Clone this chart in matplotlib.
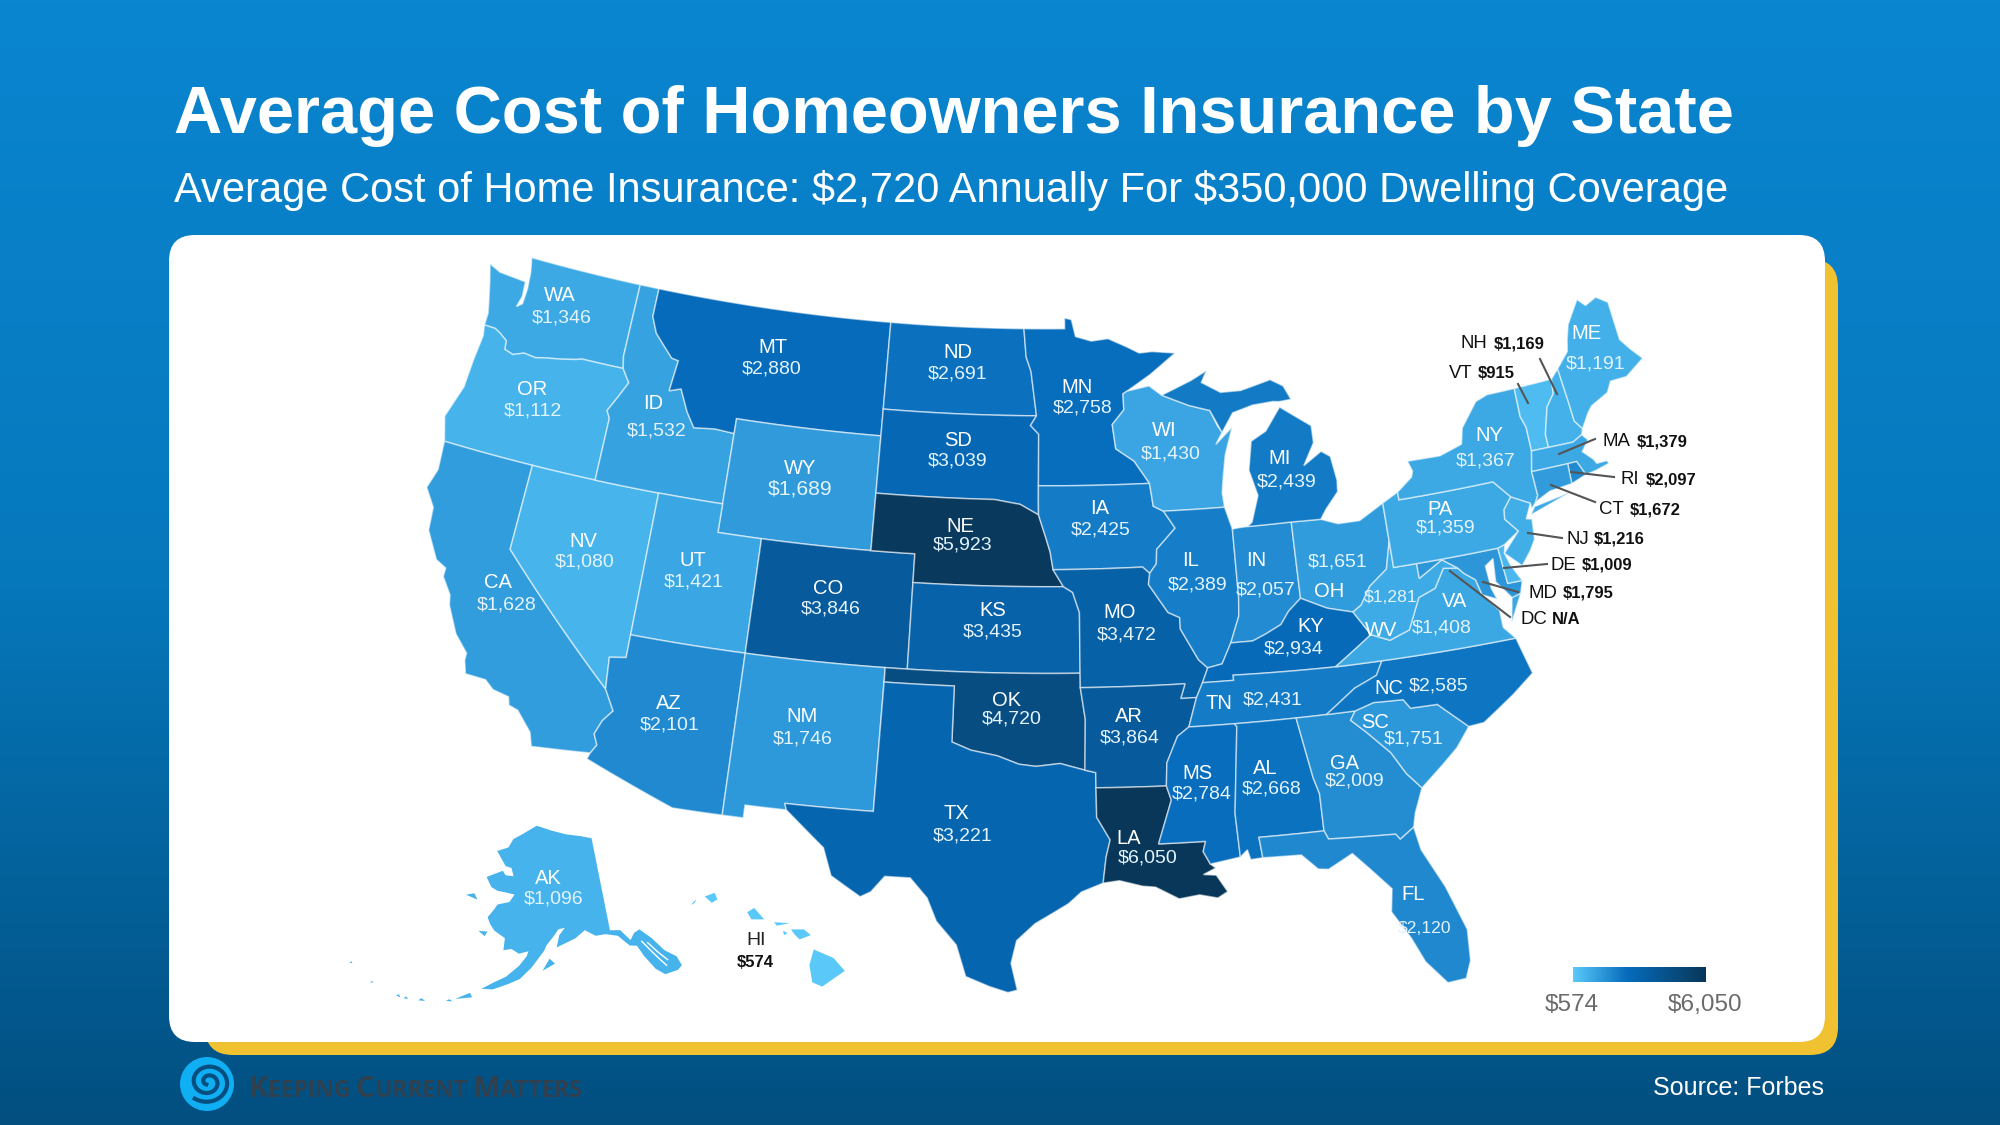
import numpy as np
import matplotlib
matplotlib.use("Agg")
import matplotlib.pyplot as plt
from matplotlib.colors import LinearSegmentedColormap, Normalize
from matplotlib.patches import Polygon, FancyBboxPatch, Circle

plt.rcParams['font.family'] = ['Liberation Sans', 'DejaVu Sans']

# costs
state_codes = ["WA", "OR", "CA", "NV", "ID", "MT", "WY", "UT", "AZ", "CO", "NM", "ND", "SD", "NE", "KS", "OK", "TX",
               "MN", "IA", "MO", "AR", "LA", "WI", "IL", "MI", "IN", "OH", "KY", "TN", "MS", "AL", "GA", "FL", "SC",
               "NC", "VA", "WV", "PA", "NY", "ME", "AK", "HI", "NH", "VT", "MA", "RI", "CT", "NJ", "DE", "MD"]
state_costs = [1346, 1112, 1628, 1080, 1532, 2880, 1689, 1421, 2101, 3846, 1746, 2691, 3039, 5923, 3435, 4720, 3221,
               2758, 2425, 3472, 3864, 6050, 1430, 2389, 2439, 2057, 1651, 2934, 2431, 2784, 2668, 2009, 2120, 1751,
               2585, 1408, 1281, 1359, 1367, 1191, 1096, 574, 1169, 915, 1379, 2097, 1672, 1216, 1009, 1795]
cost_min = 574
cost_max = 6050

# label positions are measured on a 1568 wide copy of the picture
label_scale = 2000 / 1568
inner_labels = {
    "WA": (439, 230, 440, 248, 14), "OR": (417, 304, 418, 321, 14), "CA": (390, 455, 397, 473, 14),
    "NV": (457, 423, 458, 439, 14), "ID": (512, 315, 515, 336, 14), "MT": (606, 271, 605, 288, 14),
    "WY": (627, 366, 627, 382, 15.2), "UT": (543, 438, 544, 455, 14), "AZ": (524, 550, 525, 567, 14),
    "CO": (649, 460, 651, 476, 14), "NM": (629, 560, 629, 578, 14), "ND": (751, 275, 751, 292, 14),
    "SD": (751, 344, 751, 360, 14), "NE": (753, 411, 755, 426, 14), "KS": (778, 477, 778, 494, 14),
    "OK": (789, 548, 793, 562, 14), "TX": (750, 636, 755, 654, 14), "MN": (844, 302, 849, 318, 14),
    "IA": (862, 397, 863, 414, 14), "MO": (878, 479, 883, 496, 14), "AR": (885, 560, 886, 577, 14),
    "LA": (885, 656, 900, 671, 14), "WI": (913, 336, 918, 354, 14), "IL": (933, 438, 939, 457, 14),
    "MI": (1003, 358, 1009, 376, 14), "IN": (985, 438, 992, 461, 14), "OH": (1042, 462, 1049, 439, 14),
    "KY": (1028, 490, 1014, 507, 14), "TN": (956, 550, 998, 547, 14), "MS": (939, 605, 942, 621, 14),
    "AL": (992, 601, 997, 617, 14), "GA": (1054, 597, 1062, 611, 14), "FL": (1108, 700, 1117, 726, 12.6),
    "SC": (1078, 565, 1108, 578, 14), "NC": (1089, 538, 1128, 536, 14), "VA": (1140, 470, 1130, 491, 14),
    "WV": (1083, 493, 1090, 467, 12.6), "PA": (1129, 398, 1133, 412, 14), "NY": (1168, 340, 1165, 360, 14),
    "ME": (1244, 260, 1251, 284, 14), "AK": (430, 687, 434, 703, 14),
}

# labels outside the map: code, value, code x, value x, y, leader line
outer_codes = ["NH", "VT", "MA", "RI", "CT", "NJ", "DE", "MD", "DC"]
outer_values = ["$1,169", "$915", "$1,379", "$2,097", "$1,672", "$1,216", "$1,009", "$1,795", "N/A"]
outer_pos = [(1461, 1494, 343), (1449, 1478, 372), (1603, 1637, 441), (1621, 1646, 479), (1599, 1630, 509),
             (1566, 1594, 538), (1551, 1582, 564), (1528, 1563, 592), (1520, 1552, 619)]
outer_lines = [((1540, 359), (1557, 394)), ((1518, 384), (1528, 403)), ((1595, 439), (1559, 454)),
               ((1614, 477), (1571, 472)), ((1595, 502), (1551, 485)), ((1562, 538), (1528, 533)),
               ((1547, 564), (1504, 568)), ((1518, 592), (1483, 582)), ((1510, 617), (1450, 571))]

# state outlines in lon/lat, a state can have more than one part
lower48 = {
    "WA": [[(-122.76,49),(-117.03,49),(-117.04,46.42),(-116.92,46),(-118.98,46),(-119.3,45.93),(-119.99,45.82),(-120.65,45.74),(-121.2,45.65),(-121.8,45.7),(-122.3,45.55),(-122.75,45.65),(-122.8,45.95),(-123.2,46.15),(-123.5,46.26),(-124.05,46.27),(-124.05,46.7),(-124.15,47),(-124.43,47.75),(-124.7,48.38),(-124.1,48.2),(-123.2,48.15),(-122.72,48.12),(-122.66,47.6),(-122.8,47.2),(-122.55,47.35),(-122.52,47.9),(-122.6,48.5)]],
    "OR": [[(-124.05,46.27),(-123.5,46.26),(-123.2,46.15),(-122.8,45.95),(-122.75,45.65),(-122.3,45.55),(-121.8,45.7),(-121.2,45.65),(-120.65,45.74),(-119.99,45.82),(-119.3,45.93),(-118.98,46),(-116.92,46),(-116.5,45.55),(-116.85,45),(-117.22,44.45),(-117.03,44.2),(-117.03,42),(-124.21,42),(-124.55,42.84),(-124.1,44),(-124.05,45),(-123.95,45.9)]],
    "CA": [[(-124.21,42),(-120,42),(-120,39),(-114.63,35),(-114.14,34.3),(-114.5,33.9),(-114.72,33.4),(-114.52,33.03),(-114.72,32.72),(-117.12,32.53),(-117.3,33),(-118,33.65),(-118.4,33.75),(-118.5,34.03),(-119.2,34.15),(-119.6,34.42),(-120.47,34.45),(-120.65,34.9),(-120.65,35.15),(-121.3,35.7),(-121.9,36.6),(-122,36.95),(-122.5,37.5),(-122.5,37.8),(-123,38),(-123.7,38.9),(-123.8,39.7),(-124.35,40.3),(-124.1,41)]],
    "NV": [[(-120,42),(-114.04,42),(-114.04,36.2),(-114.74,36.1),(-114.63,35),(-120,39)]],
    "ID": [[(-117.03,49),(-116.05,49),(-116.05,48),(-115.7,47.45),(-114.7,46.7),(-114.35,46.65),(-114.5,45.56),(-113.95,45.7),(-113.45,44.95),(-113,44.45),(-112,44.53),(-111.05,44.48),(-111.05,42),(-117.03,42),(-117.03,44.2),(-117.22,44.45),(-116.85,45),(-116.5,45.55),(-116.92,46),(-117.04,46.42)]],
    "MT": [[(-116.05,49),(-104.05,49),(-104.05,45),(-111.05,45),(-111.05,44.48),(-112,44.53),(-113,44.45),(-113.45,44.95),(-113.95,45.7),(-114.5,45.56),(-114.35,46.65),(-114.7,46.7),(-115.7,47.45),(-116.05,48)]],
    "WY": [[(-111.05,45),(-104.05,45),(-104.05,41),(-111.05,41)]],
    "UT": [[(-114.04,42),(-111.05,42),(-111.05,41),(-109.05,41),(-109.05,37),(-114.04,37)]],
    "CO": [[(-109.05,41),(-102.05,41),(-102.05,37),(-109.05,37)]],
    "AZ": [[(-114.74,36.1),(-114.04,36.2),(-114.04,37),(-109.05,37),(-109.05,31.33),(-111.07,31.33),(-114.81,32.5),(-114.72,32.72),(-114.52,33.03),(-114.72,33.4),(-114.5,33.9),(-114.14,34.3),(-114.63,35)]],
    "NM": [[(-109.05,37),(-103,37),(-103.04,32),(-106.62,32),(-106.53,31.78),(-108.2,31.78),(-108.2,31.33),(-109.05,31.33)]],
    "ND": [[(-104.05,49),(-97.23,49),(-97.1,48),(-96.85,47.5),(-96.56,45.94),(-104.05,45.94)]],
    "SD": [[(-104.05,45.94),(-96.56,45.94),(-96.85,45.6),(-96.45,45.3),(-96.45,43.5),(-96.45,43),(-96.44,42.49),(-97.3,42.85),(-98.5,43),(-104.05,43)]],
    "NE": [[(-104.05,43),(-98.5,43),(-97.3,42.85),(-96.44,42.49),(-96.1,41.7),(-95.9,41.2),(-95.77,40.59),(-95.31,40),(-102.05,40),(-102.05,41),(-104.05,41)]],
    "KS": [[(-102.05,40),(-95.31,40),(-94.9,39.8),(-94.61,39.1),(-94.62,37),(-102.05,37)]],
    "OK": [[(-103,37),(-94.62,37),(-94.62,36.5),(-94.43,35.4),(-94.48,33.64),(-95.5,33.88),(-96.5,33.78),(-97.2,33.85),(-98.1,34.13),(-99.2,34.3),(-100,34.56),(-100,36.5),(-103,36.5)]],
    "TX": [[(-106.62,32),(-103.04,32),(-103,36.5),(-100,36.5),(-100,34.56),(-99.2,34.3),(-98.1,34.13),(-97.2,33.85),(-96.5,33.78),(-95.5,33.88),(-94.48,33.64),(-94.04,33.55),(-94.04,33.02),(-94.04,32),(-93.52,31.2),(-93.7,30.6),(-93.84,29.7),(-94.7,29.4),(-95.2,29),(-96.5,28.3),(-97.2,27.7),(-97.4,26.9),(-97.15,25.96),(-97.5,25.87),(-98.2,26.07),(-99.1,26.4),(-99.5,27.5),(-100.3,28.3),(-100.7,29.1),(-101.4,29.77),(-102.4,29.77),(-102.9,29.2),(-103.3,29),(-104.5,29.65),(-104.9,30.6),(-106,31.4),(-106.53,31.78)]],
    "MN": [[(-97.23,49),(-95.15,49),(-95.15,49.38),(-94.8,49.32),(-94.6,48.72),(-93.8,48.55),(-92.95,48.62),(-92,48.3),(-91.4,48.07),(-90.75,48.1),(-89.6,48),(-90.9,47.3),(-92.1,46.75),(-92.3,46.66),(-92.29,46.1),(-92.88,45.6),(-92.75,44.75),(-91.9,44.3),(-91.22,43.5),(-96.45,43.5),(-96.45,45.3),(-96.85,45.6),(-96.56,45.94),(-96.85,47.5),(-97.1,48)]],
    "IA": [[(-96.45,43.5),(-91.22,43.5),(-91.1,42.7),(-90.64,42.51),(-90.15,41.9),(-91.05,41.2),(-91.1,40.7),(-91.42,40.38),(-91.73,40.61),(-95.77,40.59),(-95.9,41.2),(-96.1,41.7),(-96.44,42.49),(-96.45,43)]],
    "MO": [[(-95.77,40.59),(-91.73,40.61),(-91.42,40.38),(-91.5,40),(-90.7,39),(-90.2,38.8),(-90.2,38.4),(-89.5,37.3),(-89.13,37),(-89.4,36.5),(-89.7,36),(-90.37,36),(-90.15,36.5),(-94.62,36.5),(-94.62,37),(-94.61,39.1),(-94.9,39.8),(-95.31,40)]],
    "AR": [[(-94.62,36.5),(-90.15,36.5),(-90.37,36),(-89.7,36),(-90.1,35),(-90.6,34.7),(-91.1,33.8),(-91.17,33),(-94.04,33.02),(-94.04,33.55),(-94.48,33.64),(-94.43,35.4)]],
    "LA": [[(-94.04,33.02),(-91.17,33),(-91,32.5),(-91.6,31),(-89.73,31),(-89.85,30.65),(-89.6,30.2),(-89.4,30.05),(-89.9,29.85),(-89.4,29.8),(-89,29.2),(-89.4,29),(-90.1,29.15),(-90.9,29.05),(-91.8,29.5),(-92.3,29.55),(-93.2,29.77),(-93.84,29.7),(-93.7,30.6),(-93.52,31.2),(-94.04,32)]],
    "WI": [[(-92.3,46.66),(-92.1,46.75),(-91,46.9),(-90.4,46.55),(-89.1,46.13),(-88.1,45.9),(-87.8,45.35),(-87.6,45.1),(-87.95,44.7),(-87.1,45.25),(-87.55,44.3),(-87.75,43.5),(-87.85,43),(-87.8,42.5),(-90.64,42.51),(-91.1,42.7),(-91.22,43.5),(-91.9,44.3),(-92.75,44.75),(-92.88,45.6),(-92.29,46.1)]],
    "IL": [[(-90.64,42.51),(-87.8,42.5),(-87.53,41.72),(-87.53,39.35),(-87.6,38.7),(-88.05,37.8),(-88.5,37.1),(-89.13,37),(-89.5,37.3),(-90.2,38.4),(-90.2,38.8),(-90.7,39),(-91.5,40),(-91.42,40.38),(-91.1,40.7),(-91.05,41.2),(-90.15,41.9)]],
    "IN": [[(-87.53,41.72),(-87.2,41.75),(-86.82,41.76),(-84.81,41.76),(-84.81,39.1),(-85.4,38.7),(-85.8,38.27),(-86.5,38),(-87.1,37.8),(-88.05,37.8),(-87.6,38.7),(-87.53,39.35)]],
    "OH": [[(-84.81,41.76),(-83.45,41.73),(-82.7,41.5),(-81.7,41.5),(-80.52,41.98),(-80.52,40.64),(-80.85,39.7),(-81.7,39.2),(-82.2,38.6),(-82.6,38.4),(-83.7,38.65),(-84.81,39.1)]],
    "KY": [[(-84.81,39.1),(-83.7,38.65),(-82.6,38.4),(-81.97,37.54),(-83.68,36.6),(-88.07,36.68),(-88.07,36.5),(-89.4,36.5),(-89.13,37),(-88.5,37.1),(-88.05,37.8),(-87.1,37.8),(-86.5,38),(-85.8,38.27),(-85.4,38.7)]],
    "TN": [[(-90.1,35),(-89.7,36),(-89.4,36.5),(-88.07,36.5),(-88.07,36.68),(-83.68,36.6),(-81.68,36.59),(-82,36.12),(-83,35.78),(-84.32,35),(-88.2,35)]],
    "MS": [[(-90.1,35),(-88.2,35),(-88.1,34.9),(-88.47,31.9),(-88.4,30.37),(-89.6,30.2),(-89.85,30.65),(-89.73,31),(-91.6,31),(-91,32.5),(-91.17,33),(-91.1,33.8),(-90.6,34.7)]],
    "AL": [[(-88.2,35),(-85.6,35),(-85.18,32.87),(-85,32.3),(-85,31),(-87.6,31),(-87.52,30.28),(-88,30.25),(-88.1,30.6),(-88.4,30.37),(-88.47,31.9),(-88.1,34.9)]],
    "GA": [[(-85.6,35),(-83.11,35),(-83.35,34.7),(-82.75,34.2),(-81.9,33.4),(-81.4,32.6),(-80.87,32.03),(-81.3,31.2),(-81.45,30.72),(-82.05,30.37),(-82.2,30.57),(-84.86,30.7),(-85,31),(-85,32.3),(-85.18,32.87)]],
    "FL": [[(-87.6,31),(-85,31),(-84.86,30.7),(-82.2,30.57),(-82.05,30.37),(-81.45,30.72),(-81.3,29.9),(-80.6,28.5),(-80.05,26.9),(-80.13,25.8),(-80.4,25.2),(-81.1,25.15),(-81.8,26),(-82.2,26.9),(-82.8,27.9),(-82.65,28.7),(-83.4,29.5),(-84,30.1),(-85,29.65),(-85.4,29.7),(-86,30.25),(-87.52,30.28)]],
    "SC": [[(-83.11,35),(-82.3,35.2),(-81.05,35.15),(-80.8,34.82),(-79.67,34.8),(-78.55,33.86),(-79.2,33.2),(-79.9,32.7),(-80.87,32.03),(-81.4,32.6),(-81.9,33.4),(-82.75,34.2),(-83.35,34.7)]],
    "NC": [[(-84.32,35),(-83,35.78),(-82,36.12),(-81.68,36.59),(-75.87,36.55),(-75.5,35.25),(-76.5,34.65),(-77.9,33.9),(-78.55,33.86),(-79.67,34.8),(-80.8,34.82),(-81.05,35.15),(-82.3,35.2),(-83.11,35)]],
    "VA": [[(-83.68,36.6),(-81.68,36.59),(-75.87,36.55),(-76.3,37),(-76.3,37.6),(-76.9,38.25),(-77.05,38.8),(-77.5,39.1),(-77.72,39.32),(-78.35,39.4),(-78.87,38.77),(-79.65,38.55),(-80.3,37.5),(-81.2,37.25),(-81.97,37.54)],
           [(-75.9,37.1),(-75.24,38.03),(-75.65,37.95)]],
    "WV": [[(-80.52,40.64),(-80.52,39.72),(-79.48,39.72),(-79.48,39.2),(-78.35,39.7),(-77.72,39.32),(-78.35,39.4),(-78.87,38.77),(-79.65,38.55),(-80.3,37.5),(-81.2,37.25),(-81.97,37.54),(-82.6,38.4),(-82.2,38.6),(-81.7,39.2),(-80.85,39.7)]],
    "MD": [[(-79.48,39.72),(-75.79,39.72),(-75.7,38.46),(-75.05,38.45),(-75.24,38.03),(-75.65,37.95),(-76.2,38.6),(-76.1,39.4),(-76.5,39.2),(-76.45,38.4),(-76.3,38),(-76.9,38.25),(-77.05,38.8),(-77.5,39.1),(-77.72,39.32),(-78.35,39.7),(-79.48,39.2)]],
    "DE": [[(-75.79,39.72),(-75.45,39.8),(-75.55,39.5),(-75.4,39.05),(-75.05,38.45),(-75.7,38.46)]],
    "PA": [[(-80.52,41.98),(-79.76,42.27),(-79.76,42),(-75.35,42),(-74.7,41.36),(-75.13,40.98),(-75.2,40.65),(-74.72,40.15),(-75.45,39.8),(-75.79,39.72),(-80.52,39.72),(-80.52,40.64)]],
    "NJ": [[(-74.7,41.36),(-73.9,41),(-74.25,40.5),(-74,40.45),(-74.1,39.75),(-74.4,39.4),(-74.9,38.95),(-75.55,39.5),(-74.72,40.15),(-75.2,40.65),(-75.13,40.98)]],
    "NY": [[(-79.76,42.27),(-79,42.7),(-78.9,42.9),(-79.05,43.27),(-77.5,43.25),(-76.4,43.5),(-76.2,44.05),(-75.3,44.85),(-74.7,45),(-73.35,45),(-73.4,44),(-73.25,43.6),(-73.27,42.75),(-73.5,42.05),(-73.49,41.2),(-73.65,41),(-73.9,40.8),(-73.9,41),(-74.7,41.36),(-75.35,42),(-79.76,42)],
           [(-74,40.6),(-72,41.05),(-73.75,40.85)]],
    "VT": [[(-73.35,45),(-71.5,45.01),(-71.6,44.5),(-72.05,44.1),(-72.45,43.2),(-72.46,42.73),(-73.27,42.75),(-73.25,43.6),(-73.4,44)]],
    "NH": [[(-71.5,45.01),(-71.08,45.3),(-71,44),(-70.98,43.4),(-70.7,43.07),(-70.82,42.87),(-71.3,42.7),(-72.46,42.73),(-72.45,43.2),(-72.05,44.1),(-71.6,44.5)]],
    "ME": [[(-71.08,45.3),(-70.4,45.8),(-70.25,46.2),(-70,46.7),(-69.23,47.46),(-68.9,47.18),(-68.3,47.36),(-67.79,47.07),(-67.79,45.7),(-67.45,45.3),(-67,44.85),(-68,44.4),(-68.8,44.4),(-69.1,44.05),(-70,43.75),(-70.25,43.55),(-70.7,43.07),(-70.98,43.4),(-71,44)]],
    "MA": [[(-73.5,42.05),(-73.27,42.75),(-72.46,42.73),(-71.3,42.7),(-70.82,42.87),(-70.6,42.65),(-71,42.3),(-70.6,41.95),(-70.5,41.78),(-70,41.78),(-70.1,42.05),(-69.97,41.67),(-70.65,41.55),(-71.12,41.5),(-71.38,42.02),(-71.8,42.02)]],
    "RI": [[(-71.8,42.02),(-71.38,42.02),(-71.12,41.5),(-71.85,41.32)]],
    "CT": [[(-73.5,42.05),(-71.8,42.02),(-71.85,41.32),(-72.9,41.25),(-73.65,41),(-73.49,41.2)]],
    "MI": [[(-86.82,41.76),(-84.81,41.76),(-83.45,41.73),(-83.15,42.05),(-82.5,42.6),(-82.45,43),(-82.6,43.85),(-83,44.07),(-83.9,43.65),(-83.3,44.4),(-83.3,45),(-84.7,45.78),(-85.5,45),(-86.25,44.7),(-86.5,43.7),(-86.2,42.8),(-86.6,41.9)],
           [(-90.4,46.55),(-89.1,46.13),(-88.1,45.9),(-87.6,45.1),(-87,45.75),(-86,45.95),(-85,46),(-84.7,45.97),(-84.1,46),(-84.4,46.5),(-85,46.77),(-86.5,46.5),(-87.5,46.5),(-88.4,46.9),(-88.1,47.3),(-88.9,47)]],
}
alaska = [
    [(-141,69.65),(-141,60.3),(-139,60.1),(-137.5,58.9),(-136.5,59.5),(-135.3,59.7),(-133.5,58.5),(-132,57),(-130.3,56),(-130,55),(-130.9,54.7),(-133.2,54.7),(-134.5,55.5),(-135.8,57),(-136.6,58.2),(-137.9,58.4),(-139.7,59.6),(-142,60),(-144,60),(-146,60.7),(-148,60),(-149.5,59.7),(-151.8,59.2),(-151.2,60.4),(-150,61.1),(-151.3,61),(-152.2,60.4),(-153.8,59.4),(-154.2,58.9),(-156.5,57.2),(-158.5,56),(-160.5,55.4),(-163,54.7),(-164.9,54.6),(-163,55.4),(-161,56.1),(-158.8,57.3),(-157.5,58.3),(-157.2,58.8),(-159,58.5),(-160.5,58.9),(-162,58.7),(-162,59.9),(-164.3,60.5),(-165.4,61.1),(-166.1,61.7),(-165,62.6),(-164.5,63.1),(-162,63.5),(-161,64.3),(-162.8,64.4),(-165,64.45),(-166.5,64.7),(-168.1,65.6),(-164.5,66.5),(-163.7,66.1),(-161.7,66.1),(-162.5,66.9),(-164,67),(-166.8,68.35),(-164,68.9),(-163,69.8),(-161,70.3),(-156.6,71.35),(-152,70.85),(-148,70.4),(-144,70.05)],
    [(-154.5,56.9),(-152.2,57.6),(-153.2,58.1)],
    [(-167.4,60.2),(-165.6,60.3),(-166,59.8)],
    [(-171.7,63.4),(-169,63.2),(-170,63.75)],
    [(-168.9,53.1),(-166.2,53.6),(-166.7,54)],
    [(-170.3,52.7),(-169.2,52.8),(-169.8,52.95)],
    [(-174.6,52),(-173.5,52.15),(-174.2,52.3)],
    [(-176.9,51.75),(-176.2,51.8),(-176.6,52)],
    [(-178.2,51.75),(-177.4,51.7),(-177.8,51.95)],
    [(-182.8,51.9),(-182.3,52.1),(-182.6,52.15)],
    [(-187.2,52.8),(-186.7,52.85),(-187,53)],
]
alaska_channels = [[(-135.5,58.5),(-134.5,57.5),(-133.5,56.5),(-132.5,55.5)],
                   [(-134.5,58.2),(-133.2,57),(-132,56)]]
hawaii = [
    [(-155.9,20.25),(-155.2,19.95),(-154.8,19.5),(-155.6,18.95),(-155.95,19.1),(-156.05,19.7)],
    [(-156.7,20.95),(-156.25,20.95),(-156,20.75),(-156.4,20.6),(-156.6,20.8)],
    [(-157.3,21.2),(-156.75,21.17),(-157.2,21.08)],
    [(-156.98,20.9),(-156.82,20.82),(-156.95,20.75)],
    [(-158.25,21.55),(-158,21.7),(-157.65,21.3),(-158.1,21.3)],
    [(-159.75,22.1),(-159.4,22.23),(-159.3,22),(-159.5,21.88)],
    [(-160.25,21.8),(-160.05,22),(-160.1,21.88)],
]


def densify(part):
    # straight borders along a parallel have to bend after the projection
    pts = []
    for a, b in zip(part, part[1:] + part[:1]):
        steps = max(1, int(abs(a[0] - b[0]) / 0.5))
        for i in range(steps):
            pts.append((a[0] + (b[0] - a[0]) * i / steps, a[1] + (b[1] - a[1]) * i / steps))
    return np.array(pts)


def albers(pts, lat1, lat2, lon0, lat0, sx, sy, x0, y0):
    lon, lat = np.radians(pts[:, 0]), np.radians(pts[:, 1])
    n = (np.sin(np.radians(lat1)) + np.sin(np.radians(lat2))) / 2
    c = np.cos(np.radians(lat1)) ** 2 + 2 * n * np.sin(np.radians(lat1))
    rho = np.sqrt(c - 2 * n * np.sin(lat)) / n
    rho0 = np.sqrt(c - 2 * n * np.sin(np.radians(lat0))) / n
    theta = n * (lon - np.radians(lon0))
    return np.column_stack([x0 + sx * rho * np.sin(theta), y0 - sy * (rho0 - rho * np.cos(theta))])


def project_lower48(part):
    return albers(densify(part), 29.5, 45.5, -96, 37.5, 1686, 1640, 1048, 659)


def project_alaska(pts):
    return albers(np.array(pts), 55, 65, -154, 50, 581, 576, 545.3, 1040)


def project_hawaii(part):
    pts = np.array(part)
    return np.column_stack([825 + (pts[:, 0] + 155.5) * 28.3, 968 - (pts[:, 1] - 19.6) * 28.6])


mid_stop = (2800 - cost_min) / (cost_max - cost_min)
cost_cmap = LinearSegmentedColormap.from_list("cost", [(0, "#5ac9fa"), (mid_stop, "#066cbc"), (1, "#093759")])
cost_norm = Normalize(cost_min, cost_max)
cost_of = dict(zip(state_codes, state_costs))

fig = plt.figure(figsize=(20, 11.25), dpi=100)
ax = fig.add_axes([0, 0, 1, 1])

# background
bg_cmap = LinearSegmentedColormap.from_list("bg", ["#0a85d0", "#0679bd", "#024f80"])
ax.imshow(np.linspace(0, 1, 256).reshape(-1, 1), cmap=bg_cmap, extent=(0, 2000, 1125, 0), aspect="auto", zorder=0)
ax.set_xlim(0, 2000)
ax.set_ylim(1125, 0)
ax.axis("off")

# cards
ax.add_patch(FancyBboxPatch((230, 284), 1583, 746, boxstyle="round,pad=25,rounding_size=28", fc="#f0c232", ec="none", zorder=1))
ax.add_patch(FancyBboxPatch((193, 259), 1608, 759, boxstyle="round,pad=24,rounding_size=26", fc="white", ec="none", zorder=2))

# states
edge = (1, 1, 1, 0.55)
for code, parts in lower48.items():
    for part in parts:
        ax.add_patch(Polygon(project_lower48(part), closed=True, fc=cost_cmap(cost_norm(cost_of[code])), ec=edge, lw=1.1, zorder=3))
for part in alaska:
    ax.add_patch(Polygon(project_alaska(part), closed=True, fc=cost_cmap(cost_norm(cost_of["AK"])), ec="none", zorder=3))
for line in alaska_channels:
    pts = project_alaska(line)
    ax.plot(pts[:, 0], pts[:, 1], color="white", lw=1, zorder=3)
for part in hawaii:
    ax.add_patch(Polygon(project_hawaii(part), closed=True, fc=cost_cmap(cost_norm(cost_of["HI"])), ec="none", zorder=3))

# labels on the states
for code, (cx, cy, vx, vy, size) in inner_labels.items():
    ax.text(cx * label_scale, cy * label_scale + 2, code, color="white", fontsize=14.5, ha="center", va="center", zorder=5)
    ax.text(vx * label_scale, vy * label_scale + 2, f"\\${cost_of[code]:,}", color="#e4f4fd", fontsize=size, ha="center", va="center", zorder=5)
ax.text(593 * label_scale, 736 * label_scale + 2, "HI", color="#222222", fontsize=14, ha="center", va="center", zorder=5)
ax.text(592 * label_scale, 753 * label_scale + 2, f"\\${cost_of['HI']:,}", color="#111111", fontsize=12, fontweight="bold", ha="center", va="center", zorder=5)

# small states in the north east get a leader line
for code, value, (cx, vx, y), (p0, p1) in zip(outer_codes, outer_values, outer_pos, outer_lines):
    ax.plot([p0[0], p1[0]], [p0[1], p1[1]], color="#555555", lw=1.5, zorder=4)
    ax.text(cx, y + 1, code, color="#111111", fontsize=13.4, ha="left", va="center", zorder=5)
    ax.text(vx, y + 1, value.replace("$", "\\$"), color="#111111", fontsize=12, fontweight="bold", ha="left", va="center", zorder=5)

# legend
ax.imshow(np.linspace(0, 1, 256).reshape(1, -1), cmap=cost_cmap, extent=(1573, 1706, 982, 967), aspect="auto", zorder=4)
ax.set_xlim(0, 2000)
ax.set_ylim(1125, 0)
ax.text(1572, 1005, f"\\${cost_min}", color="#6b6b6b", fontsize=17.6, ha="center", va="center", zorder=5)
ax.text(1705, 1005, f"\\${cost_max:,}", color="#6b6b6b", fontsize=17.6, ha="center", va="center", zorder=5)

# titles
ax.text(174, 133, "Average Cost of Homeowners Insurance by State", color="white", fontsize=48.02, fontweight="bold", ha="left", va="baseline", zorder=5)
ax.text(174, 202, "Average Cost of Home Insurance: \\$2,720 Annually For \\$350,000 Dwelling Coverage", color="white", fontsize=30, ha="left", va="baseline", zorder=5)
ax.text(1824, 1088, "Source: Forbes", color="white", fontsize=18, ha="right", va="center", zorder=5)

# logo
ax.add_patch(Circle((207, 1084), 27, fc="#10aef2", ec="none", zorder=4))
swirl = np.linspace(0, 4 * np.pi, 200)
ax.plot(208 + (3 + swirl * 1.55) * np.cos(swirl + 2.2), 1082 + (3 + swirl * 1.4) * np.sin(swirl + 2.2), color="#034f80", lw=3, zorder=4)

for word_x, big, rest in [(248, "K", "EEPING"), (355, "C", "URRENT"), (472, "M", "ATTERS")]:
    t = ax.text(word_x, 1097, big, color="#30404f", fontsize=21, fontfamily=["Open Sans", "DejaVu Sans"], fontweight="bold", ha="left", va="baseline", zorder=5)
    fig.canvas.draw()
    right = ax.transData.inverted().transform(t.get_window_extent().get_points())[1, 0]
    ax.text(right + 1, 1097, rest, color="#30404f", fontsize=16.5, fontfamily=["Open Sans", "DejaVu Sans"], fontweight="bold", ha="left", va="baseline", zorder=5)

fig.savefig("out.png", dpi=100)
